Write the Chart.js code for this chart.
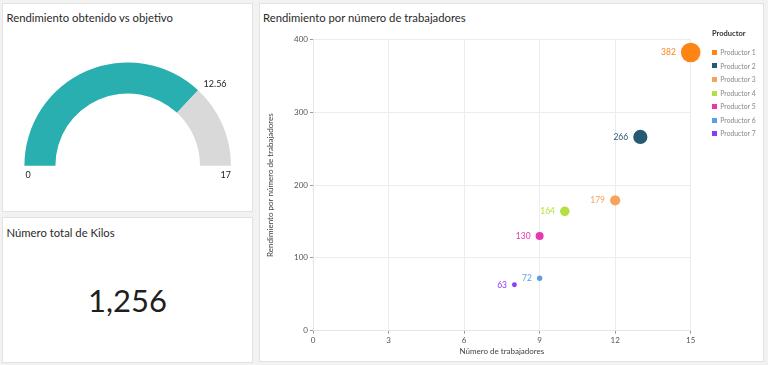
<!DOCTYPE html>
<html>
<head>
<meta charset="utf-8">
<script src="https://cdn.jsdelivr.net/npm/chart.js@4.4.1/dist/chart.umd.min.js"></script>
<style>
  html, body { margin: 0; padding: 0; width: 768px; height: 365px; overflow: hidden; background: #f2f2f2; font-family: Lato, sans-serif; }
  .panel { position: absolute; background: #fff; border: 1px solid #e2e2e2; box-sizing: border-box; }
  .txt { position: absolute; white-space: nowrap; line-height: 1.2; }
  .title { font-size: 11.3px; color: #2a2a2a; }
  canvas { position: absolute; }
  .kpi { position: absolute; left: 2px; width: 251px; top: 282px; text-align: center; font-size: 31px; line-height: 1.2; color: #1f1f1f; }
  .lg-title { font-size: 7.5px; font-weight: bold; color: #333; }
  .lg-item { font-size: 6.8px; color: #888; }
  .lg-box { position: absolute; width: 5px; height: 5px; }
</style>
</head>
<body>
<div class="panel" style="left:2px;top:3px;width:251px;height:209px"></div>
<div class="panel" style="left:2px;top:217px;width:251px;height:146px"></div>
<div class="panel" style="left:259px;top:3px;width:505px;height:359px"></div>

<div class="txt title" style="left:6.5px;top:11px">Rendimiento obtenido vs objetivo</div>
<div class="txt title" style="left:6.5px;top:225.5px">Número total de Kilos</div>
<div class="txt title" style="left:263px;top:11px">Rendimiento por número de trabajadores</div>

<div class="kpi" id="kpi"></div>

<canvas id="gauge" width="251" height="209" style="left:2px;top:3px"></canvas>
<canvas id="bubble" width="504" height="334" style="left:259px;top:28px"></canvas>
<div id="legend"></div>

<script>
// gauge: obtained vs target
const gaugeValue = 12.56;
const gaugeMax = 17;

// total kilos
const totalKilos = 1256;

// bubble chart: one producer per dataset
const producers = ['Productor 1', 'Productor 2', 'Productor 3', 'Productor 4', 'Productor 5', 'Productor 6', 'Productor 7'];
const workers = [15, 13, 12, 10, 9, 9, 8];
const yieldPerWorkers = [382, 266, 179, 164, 130, 72, 63];
const producerColors = ['#fe8416', '#265a72', '#f8a35c', '#b3e041', '#e736b0', '#5f9ce6', '#8a3cf7'];

const xTicks = [0, 3, 6, 9, 12, 15];
const yTicks = [0, 100, 200, 300, 400];

Chart.defaults.font.family = 'Lato';

document.getElementById('kpi').textContent = totalKilos.toLocaleString('en-US');

// labels for the gauge: min, max and current value
const gaugeLabels = {
  id: 'gaugeLabels',
  afterDraw(chart) {
    const ctx = chart.ctx;
    const arc = chart.getDatasetMeta(0).data[0];
    const { x, y, outerRadius, endAngle } = arc.getProps(['x', 'y', 'outerRadius', 'endAngle'], true);
    ctx.save();
    ctx.font = '9px Lato';
    ctx.fillStyle = '#222';
    ctx.textBaseline = 'middle';
    ctx.textAlign = 'left';
    ctx.fillText('0', x - outerRadius + 1, y + 9);
    ctx.textAlign = 'right';
    ctx.fillText(String(gaugeMax), x + outerRadius, y + 9);
    const r = outerRadius + 8;
    ctx.textAlign = 'left';
    ctx.fillText(gaugeValue.toFixed(2), x + Math.cos(endAngle) * r, y + Math.sin(endAngle) * r);
    ctx.restore();
  }
};

new Chart(document.getElementById('gauge'), {
  type: 'doughnut',
  data: {
    labels: ['Rendimiento', 'Resto'],
    datasets: [{
      data: [gaugeValue, gaugeMax - gaugeValue],
      backgroundColor: ['#2aafb1', '#d9d9d9'],
      borderWidth: 0
    }]
  },
  options: {
    responsive: false,
    animation: false,
    rotation: -90,
    circumference: 180,
    cutout: '70%',
    layout: { padding: { left: 22.4, right: 22, top: 59.4, bottom: 46.3 } },
    plugins: { legend: { display: false }, tooltip: { enabled: false } }
  },
  plugins: [gaugeLabels]
});

// value label to the left of each bubble
const bubbleLabels = {
  id: 'bubbleLabels',
  afterDatasetsDraw(chart) {
    const ctx = chart.ctx;
    ctx.save();
    ctx.font = '8.5px Lato';
    ctx.textAlign = 'right';
    ctx.textBaseline = 'middle';
    chart.data.datasets.forEach((ds, i) => {
      chart.getDatasetMeta(i).data.forEach((el, j) => {
        ctx.fillStyle = ds.backgroundColor;
        ctx.fillText(String(ds.data[j].y), el.x - el.options.radius - 5, el.y);
      });
    });
    ctx.restore();
  }
};

const axisFont = { family: 'Lato', size: 8 };

new Chart(document.getElementById('bubble'), {
  type: 'bubble',
  data: {
    datasets: producers.map((name, i) => ({
      label: name,
      data: [{ x: workers[i], y: yieldPerWorkers[i], r: 1 + yieldPerWorkers[i] * 0.023 }],
      backgroundColor: producerColors[i],
      borderColor: producerColors[i],
      borderWidth: 0,
      clip: false
    }))
  },
  options: {
    responsive: false,
    animation: false,
    layout: { autoPadding: false, padding: { left: 3, right: 72.3, top: 11.4, bottom: 1.3 } },
    plugins: { legend: { display: false }, tooltip: { enabled: false } },
    scales: {
      x: {
        type: 'linear', min: xTicks[0], max: xTicks[xTicks.length - 1],
        afterBuildTicks(s) { s.ticks = xTicks.map(v => ({ value: v })); },
        afterFit(s) { s.height = 30; },
        ticks: { color: '#555', font: axisFont, padding: 2, maxRotation: 0 },
        grid: { color: '#ececec', tickColor: '#9a9a9a', tickLength: 3 },
        border: { color: '#e4e4e4' },
        title: { display: true, text: 'Número de trabajadores', color: '#444', font: axisFont, padding: { top: 4, bottom: 4 } }
      },
      y: {
        type: 'linear', min: yTicks[0], max: yTicks[yTicks.length - 1],
        afterBuildTicks(s) { s.ticks = yTicks.map(v => ({ value: v })); },
        afterFit(s) { s.width = 51; },
        ticks: { color: '#555', font: axisFont, padding: 2 },
        grid: { color: '#ececec', tickColor: '#9a9a9a', tickLength: 3 },
        border: { color: '#e4e4e4' },
        title: { display: true, text: 'Rendimiento por número de trabajadores', color: '#444', font: axisFont, padding: { top: 4, bottom: 4 } }
      }
    }
  },
  plugins: [bubbleLabels]
});

// legend on the right of the bubble chart
const legend = document.getElementById('legend');
let html = '<div class="txt lg-title" style="left:712px;top:28.6px">Productor</div>';
producers.forEach((name, i) => {
  const c = 52.3 + i * 13.57;
  html += '<div class="lg-box" style="left:712px;top:' + (c - 2.5) + 'px;background:' + producerColors[i] + '"></div>';
  html += '<div class="txt lg-item" style="left:720.3px;top:' + (c - 4.3) + 'px">' + name + '</div>';
});
legend.innerHTML = html;
</script>
</body>
</html>
